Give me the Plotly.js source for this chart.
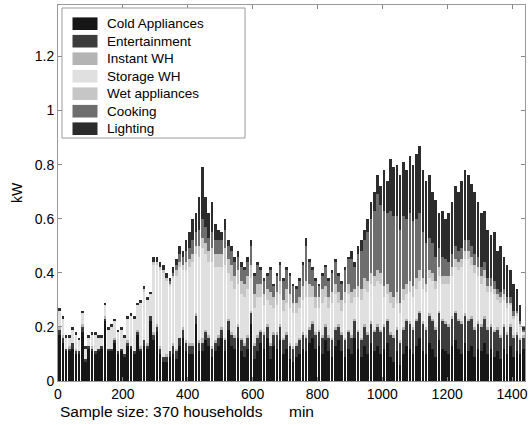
<!DOCTYPE html>
<html>
<head>
<meta charset="utf-8">
<script src="https://cdn.plot.ly/plotly-3.0.1.min.js"></script>
<style>html,body{margin:0;padding:0;background:#fff;}#chart{width:529px;height:425px;}</style>
</head>
<body>
<div id="chart"></div>
<script>
// 10-minute bins (bin centre, minutes after midnight)
const minutes = Array.from({length: 144}, (_, i) => i * 10 + 5);

const seriesNames = ["Cold Appliances", "Entertainment", "Instant WH", "Storage WH", "Wet appliances", "Cooking", "Lighting"];
const seriesColors = ["#161616", "#3c3c3c", "#b4b4b4", "#e0e0e0", "#c6c6c6", "#6e6e6e", "#2c2c2c"];

const coldAppliances = [
.17,.14,.11,.11,.12,.10,.10,.18,.07,.12,
.11,.10,.11,.12,.22,.11,.11,.14,.10,.11,
.09,.13,.12,.10,.17,.11,.13,.12,.22,.15,
.18,.10,.07,.07,.09,.10,.08,.13,.16,.11,
.10,.10,.21,.11,.11,.15,.13,.09,.11,.13,
.16,.11,.19,.13,.12,.16,.11,.09,.12,.21,
.08,.11,.14,.12,.16,.08,.13,.12,.15,.10,
.12,.08,.07,.09,.10,.12,.11,.14,.16,.12,
.13,.10,.15,.11,.09,.13,.15,.11,.09,.12,
.10,.16,.12,.09,.13,.10,.14,.11,.13,.10,
.12,.14,.09,.07,.11,.06,.10,.13,.12,.10,
.13,.16,.11,.10,.14,.12,.09,.15,.12,.11,
.10,.13,.15,.12,.10,.14,.11,.13,.09,.12,
.11,.14,.10,.12,.09,.11,.08,.12,.10,.13,.09,.11,.10,.12];

const entertainment = [
.02,.02,.01,.01,.02,.01,.01,.02,.01,.01,
.01,.01,.01,.01,.01,.01,.01,.01,.01,.01,
.01,.01,.01,.01,.01,.01,.02,.01,.02,.02,
.02,.02,.02,.02,.02,.03,.03,.03,.03,.03,
.03,.03,.03,.03,.03,.03,.03,.03,.03,.03,
.03,.04,.03,.04,.04,.04,.04,.04,.04,.04,
.05,.05,.04,.05,.04,.05,.04,.05,.05,.05,
.05,.05,.05,.04,.05,.05,.05,.05,.05,.05,
.05,.06,.05,.05,.06,.06,.05,.06,.06,.06,
.06,.06,.06,.06,.07,.07,.07,.07,.07,.08,
.08,.08,.08,.09,.08,.08,.09,.09,.09,.09,
.09,.09,.10,.09,.10,.10,.10,.10,.10,.10,
.10,.10,.10,.10,.11,.10,.11,.10,.10,.09,
.09,.09,.09,.08,.09,.08,.08,.08,.07,.07,.07,.06,.05,.04];

const instantWH = [
.01,.01,0,.01,0,.01,0,.01,0,0,
.01,0,0,0,.01,0,0,.01,0,0,
0,.01,0,0,.01,.01,0,.01,0,.01,
.01,.01,0,.01,0,.01,.01,0,.01,.01,
.01,.01,.01,.01,.02,.01,.01,.01,.01,.01,
.01,.01,.01,.01,.01,.01,.01,.01,.01,.01,
.01,.01,.01,.01,.01,.01,.01,.01,.01,.01,
.01,.01,.01,.01,.01,.01,.01,.01,.01,.01,
.01,.01,.01,.01,.01,.01,.01,.01,.01,.01,
.01,.01,.01,.01,.01,.01,.01,.01,.01,.01,
.01,.01,.01,.01,.01,.01,.01,.01,.01,.01,
.01,.01,.01,.01,.01,.01,.01,.01,.01,.01,
.01,.01,.01,.01,.01,.01,.01,.01,.01,.01,
.01,.01,.01,.01,.01,.01,.01,.01,.01,.01,.01,.01,.01,.01];

const storageWH = [
.06,.06,.04,.03,.05,.05,.04,.04,.04,.03,
.04,.06,.04,.03,.04,.07,.08,.06,.07,.07,
.06,.08,.11,.12,.09,.16,.18,.16,.08,.25,
.22,.28,.31,.27,.24,.24,.27,.26,.21,.26,
.28,.30,.22,.31,.33,.28,.27,.31,.27,.25,
.22,.27,.17,.19,.17,.15,.16,.17,.17,.12,
.13,.14,.12,.10,.09,.14,.09,.10,.11,.10,
.11,.13,.12,.11,.11,.12,.14,.11,.09,.09,
.08,.12,.10,.10,.13,.12,.08,.08,.13,.13,
.12,.08,.12,.14,.13,.15,.14,.16,.16,.17,
.10,.09,.11,.10,.09,.10,.10,.09,.11,.11,
.11,.11,.12,.13,.13,.14,.14,.13,.13,.14,
.15,.15,.16,.18,.20,.20,.22,.19,.20,.17,
.15,.14,.13,.12,.13,.10,.12,.09,.09,.07,.06,.06,.04,.01];

const wetAppliances = [
0,0,0,0,0,0,0,0,0,0,
0,0,0,0,0,0,0,0,0,0,
0,0,0,0,0,0,.01,0,0,.01,
.01,.01,.01,.01,.01,.01,.02,.02,.02,.03,
.03,.03,.03,.04,.04,.04,.04,.05,.05,.05,
.05,.06,.05,.06,.05,.05,.05,.05,.05,.05,
.05,.05,.05,.04,.04,.05,.04,.05,.05,.04,
.05,.05,.04,.04,.04,.05,.06,.05,.04,.04,
.04,.05,.04,.04,.04,.04,.04,.04,.04,.04,
.04,.03,.04,.04,.04,.04,.04,.04,.04,.04,
.04,.04,.04,.04,.04,.04,.04,.04,.04,.04,
.04,.04,.04,.03,.03,.03,.03,.03,.03,.03,
.03,.03,.03,.03,.03,.03,.03,.03,.03,.03,
.03,.03,.02,.02,.02,.02,.02,.02,.02,.01,.01,.01,.01,0];

const cooking = [
0,0,0,0,0,0,0,0,0,0,
0,0,0,0,0,0,0,0,0,0,
0,0,0,0,0,0,0,0,0,0,
0,0,0,0,.01,.01,.02,.03,.03,.04,
.04,.05,.05,.06,.07,.06,.05,.06,.05,.05,
.05,.07,.05,.05,.05,.05,.05,.05,.05,.07,
.07,.07,.05,.05,.05,.08,.04,.06,.06,.07,
.07,.07,.06,.05,.06,.08,.13,.08,.06,.06,
.04,.05,.07,.06,.07,.08,.06,.06,.08,.09,
.12,.08,.12,.14,.14,.18,.20,.24,.28,.25,
.28,.26,.30,.30,.28,.27,.27,.24,.25,.24,
.22,.21,.17,.15,.12,.11,.09,.07,.07,.06,
.05,.05,.05,.04,.04,.04,.04,.04,.04,.04,
.03,.03,.03,.03,.03,.02,.02,.02,.02,.02,.02,.01,.01,.01];

const lighting = [
.01,.01,.01,.01,.01,.01,.01,.01,.01,.01,
.01,.01,.01,.01,.01,.01,.01,.01,.01,.01,
.01,.01,.01,.01,.01,.01,.01,.01,.01,.02,
.02,.02,.02,.02,.01,.02,.02,.03,.02,.04,
.06,.08,.07,.12,.19,.11,.09,.11,.06,.04,
.03,.04,.02,.02,.02,.02,.02,.01,.02,.02,
.01,.01,.01,.01,.01,.01,.01,.01,.01,.01,
.01,.01,.01,.01,.01,.01,.03,.01,.01,.01,
.01,.01,.01,.01,.01,.01,.01,.01,.01,.01,
.03,.02,.03,.04,.04,.05,.06,.07,.07,.07,
.15,.12,.19,.18,.19,.20,.20,.18,.21,.21,
.24,.25,.23,.23,.23,.19,.21,.13,.17,.15,
.18,.19,.22,.22,.25,.26,.24,.23,.23,.20,
.20,.19,.18,.16,.18,.14,.17,.12,.12,.10,.10,.08,.06,.01];

const seriesValues = [coldAppliances, entertainment, instantWH, storageWH, wetAppliances, cooking, lighting];

const xTickVals = [0, 200, 400, 600, 800, 1000, 1200, 1400];
const yTickVals = [0, 0.2, 0.4, 0.6, 0.8, 1, 1.2];

const traces = seriesNames.map((name, k) => ({
  type: "bar",
  name: name,
  x: minutes,
  y: seriesValues[k],
  marker: {color: seriesColors[k], line: {width: 0}},
  hoverinfo: "skip",
  showlegend: false
}));

const fontFam = "Arial, 'Liberation Sans', sans-serif";

// Plot area geometry (pixels) for the hand-placed legend box
const W = 529, H = 425, M = {l: 58, r: 4, t: 5, b: 44};
const pw = W - M.l - M.r, ph = H - M.t - M.b;
const px = v => (v - M.l) / pw;
const py = v => (H - M.b - v) / ph;

const shapes = [{
  type: "rect", xref: "paper", yref: "paper",
  x0: px(62), x1: px(245), y0: py(138), y1: py(8),
  fillcolor: "#ffffff", line: {color: "#9a9a9a", width: 1}, layer: "above"
}];
const annotations = [];
seriesNames.forEach((name, k) => {
  const cy = 23.7 + 17.5 * k;
  shapes.push({
    type: "rect", xref: "paper", yref: "paper",
    x0: px(72.5), x1: px(97.5), y0: py(cy + 6.3), y1: py(cy - 6.3),
    fillcolor: seriesColors[k], line: {width: 0}, layer: "above"
  });
  annotations.push({
    text: name, xref: "paper", yref: "paper", x: px(105), y: py(cy),
    xanchor: "left", yanchor: "middle", showarrow: false,
    font: {family: fontFam, size: 13.5, color: "#000"}
  });
});
annotations.push(
  {text: "Sample size: 370 households", xref: "paper", yref: "paper", x: px(58), y: py(411),
   xanchor: "left", yanchor: "middle", showarrow: false,
   font: {family: fontFam, size: 15.5, color: "#000"}},
  {text: "min", xref: "paper", yref: "paper", x: px(301), y: py(411),
   xanchor: "center", yanchor: "middle", showarrow: false,
   font: {family: fontFam, size: 15.5, color: "#000"}}
);

const layout = {
  width: W,
  height: H,
  margin: M,
  paper_bgcolor: "#ffffff",
  plot_bgcolor: "#ffffff",
  barmode: "stack",
  bargap: 0.18,
  font: {family: fontFam, size: 13, color: "#000"},
  showlegend: false,
  xaxis: {
    range: [0, 1440],
    tickvals: xTickVals,
    ticktext: xTickVals.map(String),
    ticks: "inside", ticklen: 4, tickcolor: "#888",
    showline: true, linecolor: "#999", linewidth: 1, mirror: "ticks",
    showgrid: false, zeroline: false,
    tickfont: {family: fontFam, size: 14, color: "#000"},
    title: {text: ""}
  },
  yaxis: {
    range: [0, 1.39],
    tickvals: yTickVals,
    ticktext: yTickVals.map(String),
    ticks: "inside", ticklen: 4, tickcolor: "#888",
    showline: true, linecolor: "#999", linewidth: 1, mirror: "ticks",
    showgrid: false, zeroline: false,
    tickfont: {family: fontFam, size: 14, color: "#000"},
    title: {text: "kW", font: {family: fontFam, size: 14, color: "#000"}, standoff: 8}
  },
  shapes: shapes,
  annotations: annotations
};

Plotly.newPlot("chart", traces, layout, {staticPlot: true, displayModeBar: false});
</script>
</body>
</html>
